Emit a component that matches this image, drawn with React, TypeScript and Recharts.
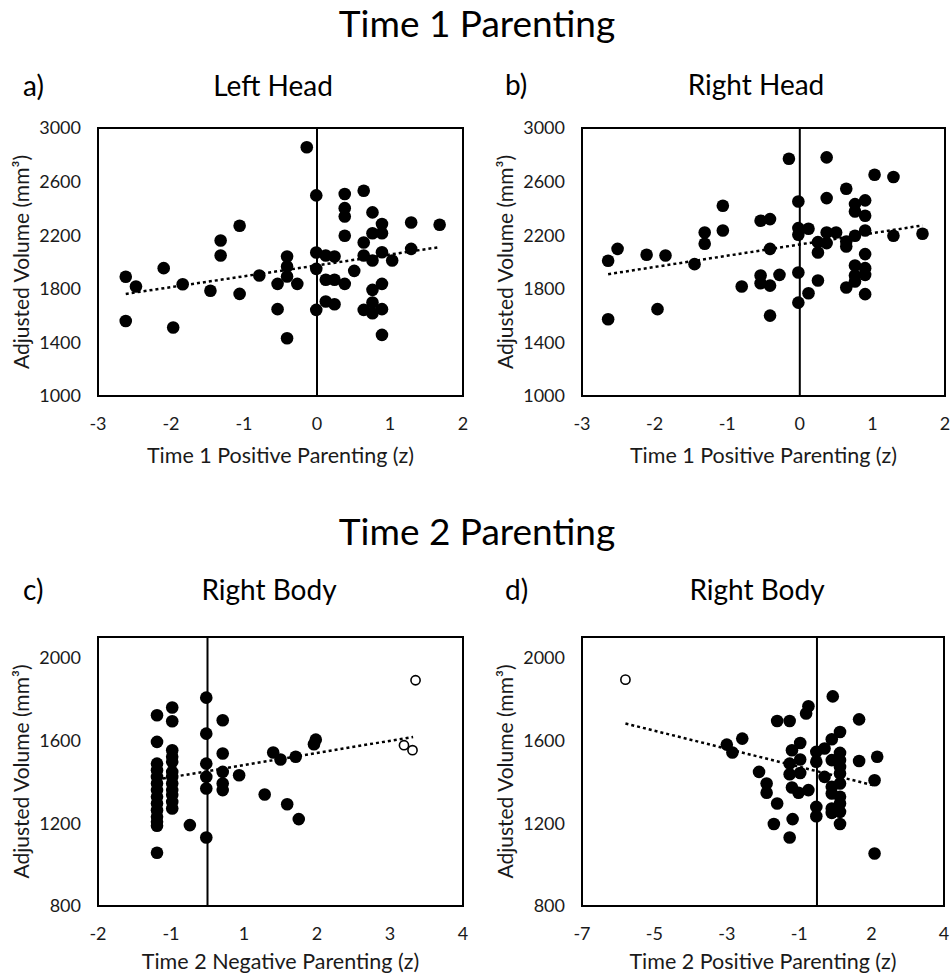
import React from 'react';
import { ScatterChart, Scatter, XAxis, YAxis, ReferenceLine, ReferenceArea, Label } from 'recharts';

type Pt = [number, number];

// a) Left Head, Time 1 positive parenting (z) vs adjusted volume
const leftHead: Pt[] = [
  [-2.62, 1890], [-2.48, 1817], [-2.62, 1560], [-2.1, 1954], [-1.97, 1511], [-1.84, 1834],
  [-1.46, 1785], [-1.32, 2161], [-1.32, 2049], [-1.06, 2270], [-1.06, 1762], [-0.79, 1899],
  [-0.54, 1837], [-0.54, 1648], [-0.41, 2041], [-0.41, 1966], [-0.41, 1892], [-0.41, 1431],
  [-0.27, 1837], [-0.14, 2856], [-0.01, 2497], [-0.01, 2071], [-0.01, 1949], [-0.01, 1643],
  [0.12, 2049], [0.12, 1867], [0.12, 1705], [0.24, 2041], [0.24, 1867], [0.24, 1685],
  [0.38, 2507], [0.38, 2402], [0.38, 2340], [0.38, 2196], [0.38, 1837], [0.51, 1934],
  [0.64, 2532], [0.64, 2146], [0.64, 2049], [0.64, 1643], [0.76, 2370], [0.76, 2215],
  [0.76, 2011], [0.76, 1792], [0.76, 1698], [0.76, 1618], [0.89, 2283], [0.89, 2215],
  [0.89, 2073], [0.89, 1837], [0.89, 1648], [0.89, 1456], [1.03, 2011], [1.29, 2295],
  [1.29, 2098], [1.68, 2278],
];
const leftHeadTrend: Pt[] = [[-2.62, 1762], [1.68, 2111]];

// b) Right Head
const rightHead: Pt[] = [
  [-2.64, 2009], [-2.64, 1573], [-2.51, 2098], [-2.11, 2054], [-1.96, 1648], [-1.85, 2049],
  [-1.45, 1984], [-1.31, 2220], [-1.31, 2136], [-1.06, 2420], [-1.06, 2235], [-0.8, 1817],
  [-0.54, 2308], [-0.54, 1899], [-0.54, 1842], [-0.41, 2320], [-0.41, 2098], [-0.41, 1824],
  [-0.41, 1600], [-0.28, 1904], [-0.15, 2771], [-0.02, 2452], [-0.02, 2253], [-0.02, 2203],
  [-0.02, 1922], [-0.02, 1697], [0.12, 2248], [0.12, 1767], [0.25, 2148], [0.25, 2071],
  [0.25, 1862], [0.37, 2781], [0.37, 2477], [0.37, 2220], [0.37, 2141], [0.5, 2220],
  [0.64, 2547], [0.64, 2153], [0.64, 2116], [0.64, 1810], [0.76, 2432], [0.76, 2377],
  [0.76, 2196], [0.76, 1974], [0.76, 1899], [0.76, 1854], [0.9, 2460], [0.9, 2345],
  [0.9, 2235], [0.9, 2059], [0.9, 1954], [0.9, 1904], [0.9, 1760], [1.03, 2651],
  [1.29, 2634], [1.29, 2196], [1.69, 2211],
];
const rightHeadTrend: Pt[] = [[-2.64, 1909], [1.69, 2273]];

// c) Right Body vs Time 2 negative parenting
const bodyNeg: Pt[] = [
  [-1.03, 1722], [-1.03, 1593], [-1.03, 1488], [-1.03, 1456], [-1.03, 1424], [-1.03, 1392],
  [-1.03, 1360], [-1.03, 1328], [-1.03, 1295], [-1.03, 1263], [-1.03, 1231], [-1.03, 1207],
  [-1.03, 1188], [-1.03, 1057],
  [-0.78, 1759], [-0.78, 1693], [-0.78, 1553], [-0.78, 1521], [-0.78, 1497], [-0.78, 1448],
  [-0.78, 1424], [-0.78, 1392], [-0.78, 1360], [-0.78, 1336], [-0.78, 1303], [-0.78, 1271],
  [-0.49, 1191],
  [-0.22, 1807], [-0.22, 1633], [-0.22, 1488], [-0.22, 1424], [-0.22, 1368], [-0.22, 1131],
  [0.05, 1698], [0.05, 1537], [0.05, 1448], [0.05, 1392], [0.05, 1360],
  [0.32, 1432], [0.74, 1339], [0.88, 1542], [1.0, 1508], [1.11, 1292], [1.25, 1521],
  [1.3, 1220], [1.55, 1582], [1.58, 1604],
];
const bodyNegOutliers: Pt[] = [[3.03, 1577], [3.17, 1553], [3.22, 1891]];
const bodyNegTrend: Pt[] = [[-1.03, 1411], [3.18, 1617]];

// d) Right Body vs Time 2 positive parenting
const bodyPos: Pt[] = [
  [-2.6, 1580], [-2.43, 1542], [-2.13, 1609], [-1.62, 1448], [-1.39, 1392], [-1.39, 1347],
  [-1.07, 1694], [-1.07, 1295], [-1.17, 1196], [-0.69, 1694], [-0.69, 1488], [-0.69, 1437],
  [-0.62, 1553], [-0.62, 1373], [-0.6, 1220], [-0.69, 1131], [-0.42, 1347], [-0.37, 1588],
  [-0.37, 1508], [-0.37, 1443], [-0.19, 1730], [-0.12, 1765], [-0.12, 1360], [0.12, 1545],
  [0.12, 1497], [0.12, 1279], [0.12, 1234], [0.37, 1561], [0.37, 1424], [0.62, 1813],
  [0.59, 1606], [0.59, 1505], [0.59, 1376], [0.59, 1344], [0.59, 1271], [0.59, 1250],
  [0.84, 1641], [0.84, 1540], [0.84, 1505], [0.84, 1472], [0.84, 1440], [0.84, 1392],
  [0.84, 1328], [0.84, 1295], [0.84, 1255], [0.84, 1196], [1.42, 1702], [1.42, 1501],
  [1.89, 1408], [1.97, 1521], [1.89, 1054],
];
const bodyPosOutliers: Pt[] = [[-5.68, 1894]];
const bodyPosTrend: Pt[] = [[-5.68, 1682], [1.84, 1384]];

const headXTicks = [-3, -2, -1, 0, 1, 2];
const headXLabels = ['-3', '-2', '-1', '0', '1', '2'];
const headYTicks = [1000, 1400, 1800, 2200, 2600, 3000];
const bodyYTicks = [800, 1200, 1600, 2000];
const negXTicks = [-2, -0.8, 0.4, 1.6, 2.8, 4];
const negXLabels = ['-2', '-1', '1', '2', '3', '4'];
const posXTicks = [-7, -4.8, -2.6, -0.4, 1.8, 4];
const posXLabels = ['-7', '-5', '-3', '-1', '2', '4'];

const FONT = 'Lato, sans-serif';
const TEXT = '#1a1a1a';

const toObj = (p: Pt[]) => p.map(([x, y]) => ({ x, y }));

const Dot = (props: any) => <circle cx={props.cx} cy={props.cy} r={6.3} fill="#000" />;
const Ring = (props: any) => (
  <circle cx={props.cx} cy={props.cy} r={4.6} fill="#fff" stroke="#000" strokeWidth={1.6} />
);

interface PanelProps {
  left: number;
  top: number;
  width: number;
  height: number;
  marginRight: number;
  marginBottom: number;
  points: Pt[];
  outliers?: Pt[];
  trend: Pt[];
  xDomain: [number, number];
  xTicks: number[];
  xLabels: string[];
  yDomain: [number, number];
  yTicks: number[];
  refX: number;
  xTitle: string;
  titleOffset: number;
}

function Panel(p: PanelProps) {
  return (
    <div style={{ position: 'absolute', left: p.left, top: p.top }}>
      <ScatterChart
        width={p.width}
        height={p.height}
        margin={{ top: 18, right: p.marginRight, bottom: p.marginBottom, left: 0 }}
      >
        <XAxis
          type="number"
          dataKey="x"
          domain={p.xDomain}
          ticks={p.xTicks}
          interval={0}
          allowDataOverflow
          tickFormatter={(v: number) => p.xLabels[p.xTicks.indexOf(v)]}
          axisLine={false}
          tickLine={false}
          tickSize={0}
          tickMargin={21}
          height={30}
          tick={{ fill: TEXT, fontSize: 18, fontFamily: FONT }}
        >
          <Label
            value={p.xTitle}
            position="bottom"
            offset={p.titleOffset}
            fill={TEXT}
            fontSize={21.5}
            fontFamily={FONT}
          />
        </XAxis>
        <YAxis
          type="number"
          dataKey="y"
          domain={p.yDomain}
          ticks={p.yTicks}
          interval={0}
          allowDataOverflow
          width={98}
          axisLine={false}
          tickLine={false}
          tickSize={0}
          tickMargin={17}
          tick={{ fill: TEXT, fontSize: 18, fontFamily: FONT }}
        >
          <Label
            value="Adjusted Volume (mm³)"
            angle={-90}
            position="insideLeft"
            offset={22}
            fill={TEXT}
            fontSize={21}
            fontFamily={FONT}
            style={{ textAnchor: 'middle' }}
          />
        </YAxis>
        <ReferenceArea
          x1={p.xDomain[0]}
          x2={p.xDomain[1]}
          y1={p.yDomain[0]}
          y2={p.yDomain[1]}
          fill="none"
          fillOpacity={0}
          stroke="#000"
          strokeWidth={2}
        />
        <ReferenceLine x={p.refX} stroke="#000" strokeWidth={2} />
        <ReferenceLine
          segment={toObj(p.trend)}
          stroke="#000"
          strokeWidth={2.5}
          strokeDasharray="3 3"
        />
        <Scatter data={toObj(p.points)} isAnimationActive={false} shape={Dot} />
        {p.outliers && (
          <Scatter data={toObj(p.outliers)} isAnimationActive={false} shape={Ring} />
        )}
      </ScatterChart>
    </div>
  );
}

export default function App() {
  return (
    <div
      style={{
        position: 'absolute',
        left: 0,
        top: 0,
        width: 950,
        height: 977,
        background: '#fff',
        overflow: 'hidden',
        fontFamily: FONT,
      }}
    >
      <svg width={950} height={977} style={{ position: 'absolute', left: 0, top: 0 }}>
        <g fill="#000" fontFamily={FONT}>
          <text x={477} y={37} fontSize={37} textAnchor="middle">Time 1 Parenting</text>
          <text x={477} y={545} fontSize={37} textAnchor="middle">Time 2 Parenting</text>
          <text x={23} y={96} fontSize={28}>a)</text>
          <text x={505} y={95} fontSize={28}>b)</text>
          <text x={23} y={600} fontSize={28}>c)</text>
          <text x={505} y={600} fontSize={28}>d)</text>
          <text x={273} y={96} fontSize={28} textAnchor="middle">Left Head</text>
          <text x={756} y={95} fontSize={28} textAnchor="middle">Right Head</text>
          <text x={269} y={600} fontSize={28} textAnchor="middle">Right Body</text>
          <text x={757} y={600} fontSize={28} textAnchor="middle">Right Body</text>
        </g>
      </svg>
      <Panel
        left={0}
        top={110}
        width={480}
        height={360}
        marginRight={17}
        marginBottom={44}
        points={leftHead}
        trend={leftHeadTrend}
        xDomain={[-3, 2]}
        xTicks={headXTicks}
        xLabels={headXLabels}
        yDomain={[1000, 3000]}
        yTicks={headYTicks}
        refX={0}
        xTitle="Time 1 Positive Parenting (z)"
        titleOffset={22}
      />
      <Panel
        left={484}
        top={110}
        width={466}
        height={360}
        marginRight={5}
        marginBottom={44}
        points={rightHead}
        trend={rightHeadTrend}
        xDomain={[-3, 2]}
        xTicks={headXTicks}
        xLabels={headXLabels}
        yDomain={[1000, 3000]}
        yTicks={headYTicks}
        refX={0}
        xTitle="Time 1 Positive Parenting (z)"
        titleOffset={22}
      />
      <Panel
        left={0}
        top={619}
        width={480}
        height={358}
        marginRight={17}
        marginBottom={41}
        points={bodyNeg}
        outliers={bodyNegOutliers}
        trend={bodyNegTrend}
        xDomain={[-2, 4]}
        xTicks={negXTicks}
        xLabels={negXLabels}
        yDomain={[800, 2100]}
        yTicks={bodyYTicks}
        refX={-0.2}
        xTitle="Time 2 Negative Parenting (z)"
        titleOffset={18}
      />
      <Panel
        left={484}
        top={619}
        width={466}
        height={358}
        marginRight={6}
        marginBottom={41}
        points={bodyPos}
        outliers={bodyPosOutliers}
        trend={bodyPosTrend}
        xDomain={[-7, 4]}
        xTicks={posXTicks}
        xLabels={posXLabels}
        yDomain={[800, 2100]}
        yTicks={bodyYTicks}
        refX={0.14}
        xTitle="Time 2 Positive Parenting (z)"
        titleOffset={18}
      />
    </div>
  );
}
